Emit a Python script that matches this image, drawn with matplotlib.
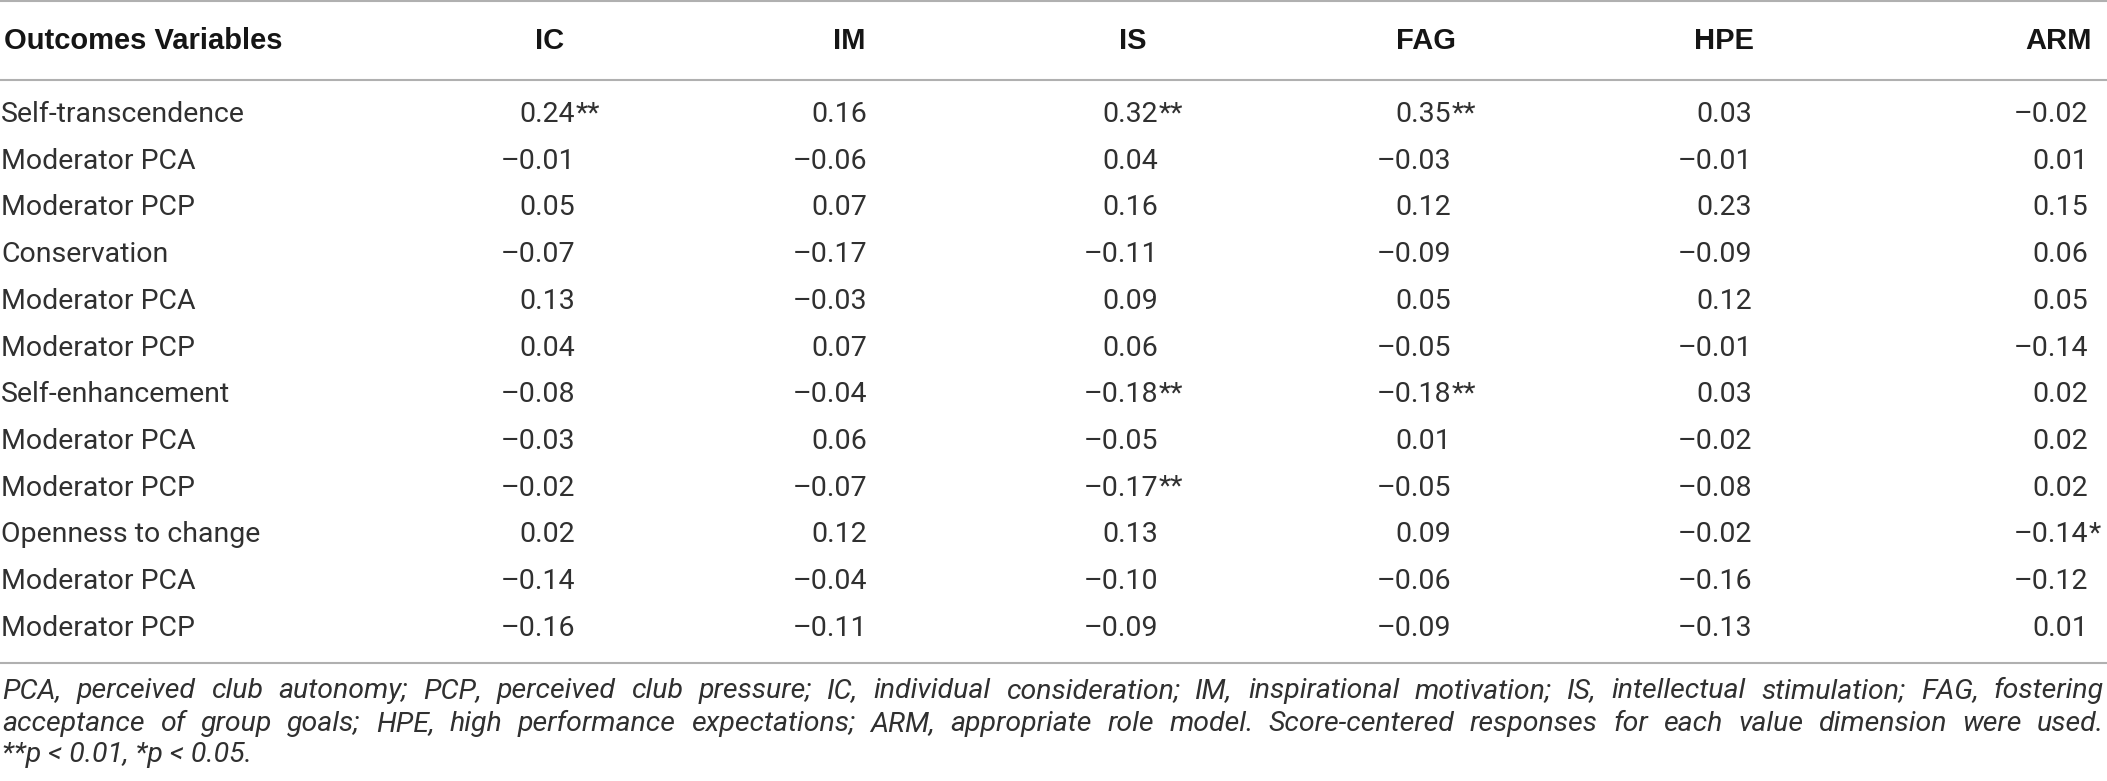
import matplotlib
matplotlib.use("Agg")
import matplotlib.pyplot as plt

# table content
row_labels = ["Self-transcendence", "Moderator PCA", "Moderator PCP",
              "Conservation", "Moderator PCA", "Moderator PCP",
              "Self-enhancement", "Moderator PCA", "Moderator PCP",
              "Openness to change", "Moderator PCA", "Moderator PCP"]
columns = ["IC", "IM", "IS", "FAG", "HPE", "ARM"]

ic = [0.24, -0.01, 0.05, -0.07, 0.13, 0.04, -0.08, -0.03, -0.02, 0.02, -0.14, -0.16]
im = [0.16, -0.06, 0.07, -0.17, -0.03, 0.07, -0.04, 0.06, -0.07, 0.12, -0.04, -0.11]
is_ = [0.32, 0.04, 0.16, -0.11, 0.09, 0.06, -0.18, -0.05, -0.17, 0.13, -0.10, -0.09]
fag = [0.35, -0.03, 0.12, -0.09, 0.05, -0.05, -0.18, 0.01, -0.05, 0.09, -0.06, -0.09]
hpe = [0.03, -0.01, 0.23, -0.09, 0.12, -0.01, 0.03, -0.02, -0.08, -0.02, -0.16, -0.13]
arm = [-0.02, 0.01, 0.15, 0.06, 0.05, -0.14, 0.02, 0.02, 0.02, -0.14, -0.12, 0.01]
values = [ic, im, is_, fag, hpe, arm]

# significance marks: (column, row) -> stars
stars = {("IC", 0): "**", ("IS", 0): "**", ("FAG", 0): "**",
         ("IS", 6): "**", ("FAG", 6): "**", ("IS", 8): "**",
         ("ARM", 9): "*"}

note_1 = ("PCA, perceived club autonomy; PCP, perceived club pressure; IC, individual "
          "consideration; IM, inspirational motivation; IS, intellectual stimulation; "
          "FAG, fostering")
note_2 = ("acceptance of group goals; HPE, high performance expectations; ARM, appropriate "
          "role model. Score-centered responses for each value dimension were used.")
note_3 = "**p < 0.01, *p < 0.05."

# layout (pixels)
W, H = 2107, 781
col_right = [575, 867, 1158, 1451, 1752, 2088]
head_center = [550, 849, 1133, 1426, 1724, 2059]
row_base0, row_step = 122, 46.7

fig = plt.figure(figsize=(W / 100, H / 100), dpi=100)
ax = fig.add_axes([0, 0, 1, 1])
ax.set_xlim(0, W)
ax.set_ylim(H, 0)
ax.axis("off")

txt = "#303030"
body = dict(family=["Roboto", "DejaVu Sans"], fontweight="normal", fontsize=20.5, color=txt)
bold = dict(family=["Liberation Sans", "DejaVu Sans"], fontweight="bold", fontsize=21, color="#151515")

for y in (1, 80, 663):
    ax.axhline(y, color="#b0b0b0", lw=1.5)

ax.text(4, 49, "Outcomes Variables", va="baseline", ha="left", **bold)
for name, cx in zip(columns, head_center):
    ax.text(cx, 49, name, va="baseline", ha="center", **bold)

for i, label in enumerate(row_labels):
    yb = row_base0 + i * row_step
    ax.text(1, yb, label, va="baseline", ha="left", **body)
    for name, col, rx in zip(columns, values, col_right):
        s = f"{col[i]:.2f}".replace("-", "\u2013")
        ax.text(rx, yb, s, va="baseline", ha="right", **body)
        mark = stars.get((name, i))
        if mark:
            ax.text(rx + 1, yb - 1, mark, va="baseline", ha="left", **body)

# footnote, justified
foot = dict(family=["Roboto", "DejaVu Sans"], fontweight="normal", fontstyle="italic",
            fontsize=20.5, color=txt)
renderer = fig.canvas.get_renderer()


def justify(line, y, x0, x1):
    words = line.split(" ")
    texts = [ax.text(0, y, w, va="baseline", ha="left", **foot) for w in words]
    widths = [t.get_window_extent(renderer).width for t in texts]
    gap = (x1 - x0 - sum(widths)) / (len(words) - 1)
    x = x0
    for t, w in zip(texts, widths):
        t.set_x(x)
        x += w + gap


justify(note_1, 698, 2, 2104)
justify(note_2, 731, 2, 2104)
ax.text(2, 762, note_3, va="baseline", ha="left", **foot)

fig.savefig("out.png", dpi=100)
